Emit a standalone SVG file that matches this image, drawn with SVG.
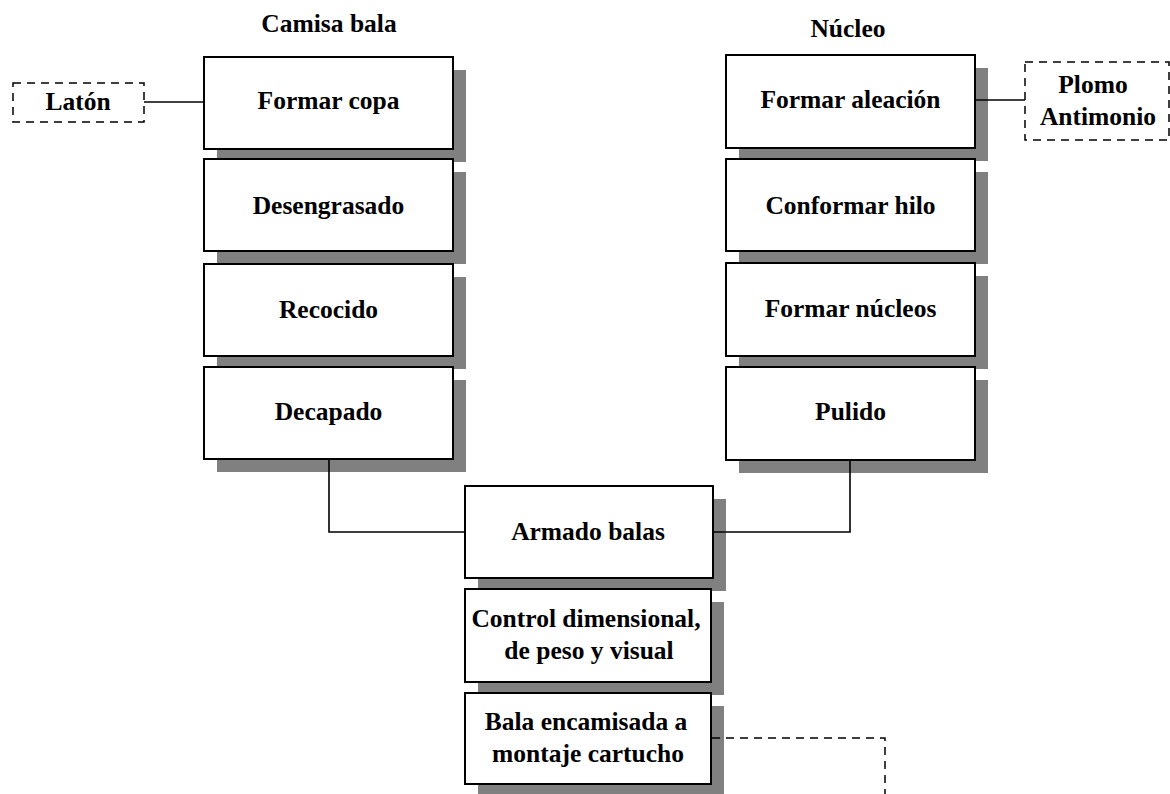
<svg xmlns="http://www.w3.org/2000/svg" width="1170" height="794" viewBox="0 0 1170 794">
<style>
.sh{fill:#808080}
.bx{fill:#fff;stroke:#000;stroke-width:2}
.dbx{fill:#fff;stroke:#000;stroke-width:1.5;stroke-dasharray:8 6}
.t{font-family:"Liberation Serif","Times New Roman",serif;font-weight:bold;font-size:25.5px;fill:#000;text-anchor:middle}
.ln{fill:none;stroke:#000;stroke-width:1.6}
.dl{fill:none;stroke:#000;stroke-width:1.5;stroke-dasharray:8 6}
</style>
<rect width="1170" height="794" fill="#fff"/>
<text class="t" x="329" y="32">Camisa bala</text>
<text class="t" x="848" y="37">Núcleo</text>
<g id="laton">
<rect class="dbx" x="13" y="83" width="131" height="39"/>
<text class="t" x="78" y="110">Latón</text>
</g>
<g id="plomo">
<rect class="dbx" x="1025" y="62" width="144" height="78"/>
<text class="t" x="1093" y="93">Plomo</text>
<text class="t" x="1098" y="125">Antimonio</text>
</g>
<g id="formar-copa">
<rect class="sh" x="217" y="70" width="249" height="92"/>
<rect class="bx" x="204" y="57" width="249" height="92"/>
<text class="t" x="328.5" y="109">Formar copa</text>
</g>
<g id="desengrasado">
<rect class="sh" x="217" y="172" width="249" height="92"/>
<rect class="bx" x="204" y="159" width="249" height="92"/>
<text class="t" x="328.5" y="214">Desengrasado</text>
</g>
<g id="recocido">
<rect class="sh" x="217" y="277" width="249" height="92"/>
<rect class="bx" x="204" y="264" width="249" height="92"/>
<text class="t" x="328.5" y="318">Recocido</text>
</g>
<g id="decapado">
<rect class="sh" x="217" y="380" width="249" height="92"/>
<rect class="bx" x="204" y="367" width="249" height="92"/>
<text class="t" x="328.5" y="420">Decapado</text>
</g>
<g id="formar-aleacion">
<rect class="sh" x="739" y="68" width="249" height="93"/>
<rect class="bx" x="726" y="55" width="249" height="93"/>
<text class="t" x="850.5" y="108">Formar aleación</text>
</g>
<g id="conformar-hilo">
<rect class="sh" x="739" y="172" width="249" height="92"/>
<rect class="bx" x="726" y="159" width="249" height="92"/>
<text class="t" x="850.5" y="214">Conformar hilo</text>
</g>
<g id="formar-nucleos">
<rect class="sh" x="739" y="276" width="249" height="93"/>
<rect class="bx" x="726" y="263" width="249" height="93"/>
<text class="t" x="850.5" y="317">Formar núcleos</text>
</g>
<g id="pulido">
<rect class="sh" x="739" y="380" width="249" height="93"/>
<rect class="bx" x="726" y="367" width="249" height="93"/>
<text class="t" x="850.5" y="420">Pulido</text>
</g>
<g id="armado-balas">
<rect class="sh" x="478" y="499" width="248" height="92"/>
<rect class="bx" x="465" y="486" width="248" height="92"/>
<text class="t" x="588" y="540">Armado balas</text>
</g>
<g id="control">
<rect class="sh" x="478" y="602" width="246" height="93"/>
<rect class="bx" x="465" y="589" width="246" height="93"/>
<text class="t" x="586" y="627">Control dimensional,</text>
<text class="t" x="589" y="659">de peso y visual</text>
</g>
<g id="bala-encamisada">
<rect class="sh" x="478" y="706" width="246" height="91"/>
<rect class="bx" x="465" y="693" width="246" height="91"/>
<text class="t" x="586" y="730">Bala encamisada a</text>
<text class="t" x="588" y="762">montaje cartucho</text>
</g>
<g id="connectors">
<path class="ln" d="M144,102 H204"/>
<path class="ln" d="M975,100 H1025"/>
<path class="ln" d="M329,460 V532 H465"/>
<path class="ln" d="M713,532 H850 V461"/>
<path class="dl" d="M712,738 H885 V794"/>
</g>
</svg>
